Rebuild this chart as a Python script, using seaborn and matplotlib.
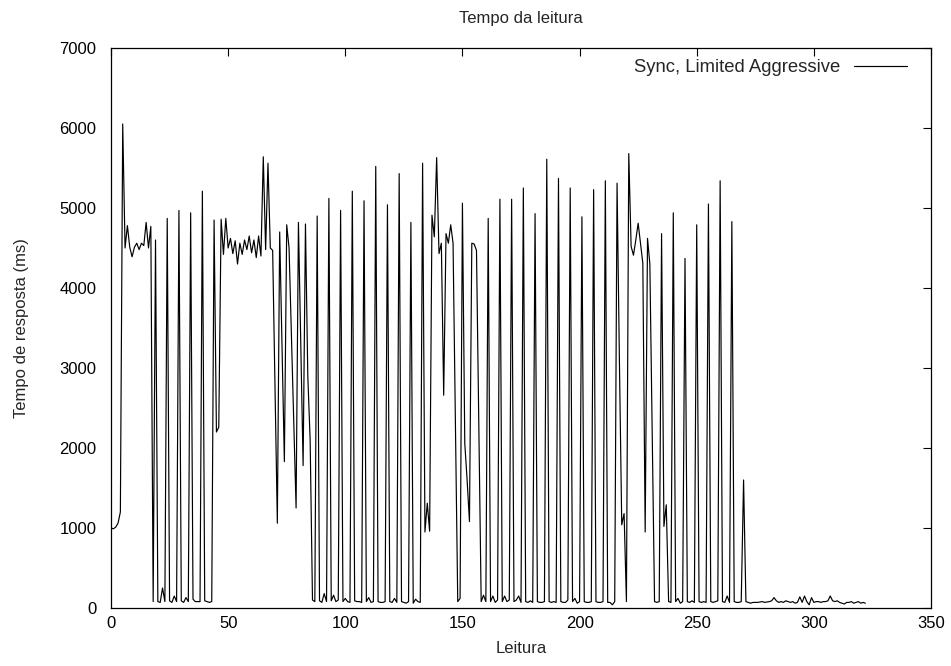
import matplotlib
matplotlib.use("Agg")
import matplotlib.pyplot as plt
import seaborn as sns
import pandas as pd

title = "Tempo da leitura"
x_label = "Leitura"
y_label = "Tempo de resposta (ms)"
series_name = "Sync, Limited Aggressive"

# response time (ms) per reading, readings 0..322
response_ms = [
    1000, 990, 1010, 1060, 1200, 6050, 4500, 4780, 4510, 4390,
    4510, 4560, 4480, 4560, 4530, 4820, 4500, 4770, 80, 4600,
    80, 70, 250, 80, 4870, 90, 70, 150, 80, 4970,
    90, 70, 130, 80, 4940, 110, 80, 80, 80, 5210,
    90, 80, 70, 80, 4850, 2200, 2260, 4860, 4420, 4870,
    4500, 4620, 4430, 4590, 4300, 4560, 4420, 4600, 4480, 4650,
    4440, 4600, 4380, 4650, 4400, 5640, 4480, 5560, 4500, 4470,
    2750, 1060, 4700, 3250, 1830, 4790, 4500, 3400, 2300, 1250,
    4820, 3300, 1780, 4800, 2900, 2100, 100, 80, 4900, 90,
    70, 180, 80, 5120, 90, 160, 80, 100, 4970, 80,
    120, 80, 70, 5210, 90, 80, 80, 70, 5090, 80,
    130, 70, 80, 5520, 80, 70, 70, 80, 5040, 80,
    70, 120, 70, 5430, 80, 70, 60, 80, 4820, 60,
    110, 80, 70, 5560, 950, 1310, 960, 4910, 4640, 5630,
    4430, 4560, 2660, 4680, 4560, 4790, 4560, 2300, 80, 120,
    5060, 2060, 1600, 1080, 4560, 4550, 4470, 2300, 80, 160,
    80, 4870, 80, 150, 70, 100, 5110, 80, 150, 80,
    100, 5110, 80, 100, 150, 70, 5250, 80, 70, 90,
    70, 4930, 80, 70, 70, 80, 5610, 80, 70, 80,
    70, 5370, 80, 70, 70, 100, 5250, 80, 120, 60,
    80, 4890, 80, 70, 70, 80, 5230, 80, 70, 70,
    80, 5340, 70, 70, 40, 80, 5310, 3100, 1040, 1180,
    80, 5680, 4520, 4410, 4600, 4810, 4560, 4310, 950, 4620,
    4300, 2200, 80, 70, 80, 4680, 1020, 1290, 80, 70,
    4940, 80, 120, 60, 80, 4370, 80, 70, 90, 70,
    4790, 80, 70, 80, 70, 5050, 80, 70, 80, 90,
    5340, 80, 70, 150, 70, 4830, 80, 70, 70, 80,
    1600, 80, 70, 60, 70, 70, 70, 75, 80, 70,
    75, 80, 90, 130, 90, 70, 80, 70, 90, 80,
    70, 80, 60, 70, 140, 70, 150, 80, 40, 130,
    70, 80, 80, 70, 80, 80, 90, 150, 90, 80,
    90, 70, 60, 50, 70, 70, 80, 60, 70, 80,
    60, 70, 60,
]
readings = list(range(len(response_ms)))

x_ticks = [0, 50, 100, 150, 200, 250, 300, 350]
y_ticks = [0, 1000, 2000, 3000, 4000, 5000, 6000, 7000]

sns.set_style("white")
plt.rcParams["font.family"] = ["Liberation Sans", "DejaVu Sans"]
plt.rcParams["font.size"] = 12

df = pd.DataFrame({"Leitura": readings, "ms": response_ms})

fig = plt.figure(figsize=(9.51, 6.66), dpi=100)
ax = fig.add_axes([111 / 951, 1 - 608 / 666, (931 - 111) / 951, (608 - 48) / 666])

sns.lineplot(data=df, x="Leitura", y="ms", ax=ax, color="black",
             linewidth=0.85, label=series_name, estimator=None)

ax.set_xlim(0, 350)
ax.set_ylim(0, 7000)
ax.set_xticks(x_ticks)
ax.set_yticks(y_ticks)
ax.tick_params(direction="in", length=6, width=0.8, top=True, right=True,
               labelsize=12, colors="black")
ax.tick_params(axis="x", pad=6)
ax.tick_params(axis="y", pad=10.5)
for s in ax.spines.values():
    s.set_visible(True)
    s.set_color("black")
    s.set_linewidth(0.9)

ax.set_title(title, fontsize=12, pad=18)
ax.set_xlabel(x_label, fontsize=12, labelpad=7)
ax.set_ylabel(y_label, fontsize=12, labelpad=22)

leg = ax.legend(loc="upper right", frameon=False, markerfirst=False,
                bbox_to_anchor=(1 - 24 / 820, 1 - 11 / 560),
                borderaxespad=0, borderpad=0,
                handlelength=2.88, handletextpad=0.72, fontsize=13.3)

fig.savefig("out.png", dpi=100, facecolor="white")
